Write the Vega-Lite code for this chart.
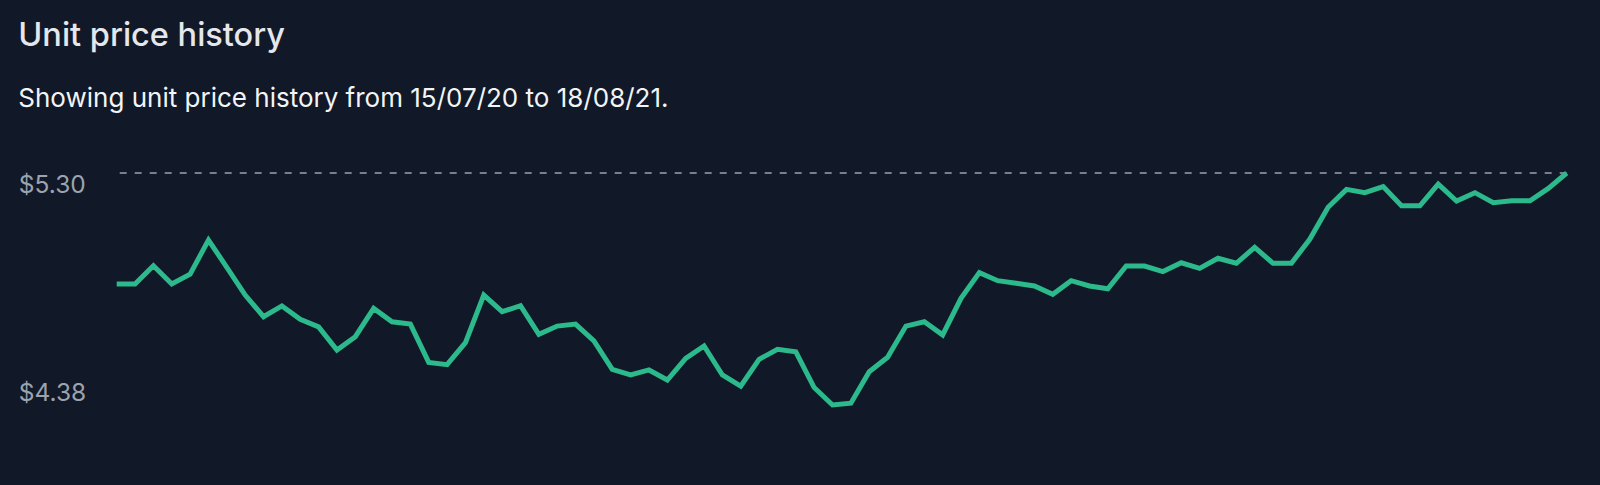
{
  "$schema": "https://vega.github.io/schema/vega-lite/v6.json",
  "width": 1450,
  "height": 232,
  "autosize": {"type": "none"},
  "padding": {"left": 116.7, "top": 173, "right": 33.3, "bottom": 80},
  "background": "#111827",
  "config": {"view": {"stroke": null}, "font": "Inter"},
  "title": {
    "text": "Unit price history",
    "subtitle": "Showing unit price history from 15/07/20 to 18/08/21.",
    "anchor": "start",
    "frame": "bounds",
    "font": "Inter",
    "fontSize": 32.5,
    "fontWeight": 500,
    "color": "#e5e7eb",
    "subtitleFont": "Inter",
    "subtitleFontSize": 26,
    "subtitleColor": "#f3f4f6",
    "subtitlePadding": 33.5,
    "offset": 51.5
  },
  "data": {
    "values": [
      {"i": 0, "price": 4.860}, {"i": 1, "price": 4.860}, {"i": 2, "price": 4.932}, {"i": 3, "price": 4.860},
      {"i": 4, "price": 4.899}, {"i": 5, "price": 5.034}, {"i": 6, "price": 4.926}, {"i": 7, "price": 4.816},
      {"i": 8, "price": 4.730}, {"i": 9, "price": 4.773}, {"i": 10, "price": 4.720}, {"i": 11, "price": 4.690},
      {"i": 12, "price": 4.598}, {"i": 13, "price": 4.651}, {"i": 14, "price": 4.763}, {"i": 15, "price": 4.710},
      {"i": 16, "price": 4.701}, {"i": 17, "price": 4.549}, {"i": 18, "price": 4.540}, {"i": 19, "price": 4.627},
      {"i": 20, "price": 4.816}, {"i": 21, "price": 4.750}, {"i": 22, "price": 4.774}, {"i": 23, "price": 4.660},
      {"i": 24, "price": 4.693}, {"i": 25, "price": 4.701}, {"i": 26, "price": 4.634}, {"i": 27, "price": 4.521},
      {"i": 28, "price": 4.499}, {"i": 29, "price": 4.519}, {"i": 30, "price": 4.479}, {"i": 31, "price": 4.565},
      {"i": 32, "price": 4.614}, {"i": 33, "price": 4.499}, {"i": 34, "price": 4.455}, {"i": 35, "price": 4.561},
      {"i": 36, "price": 4.601}, {"i": 37, "price": 4.591}, {"i": 38, "price": 4.449}, {"i": 39, "price": 4.380},
      {"i": 40, "price": 4.387}, {"i": 41, "price": 4.512}, {"i": 42, "price": 4.569}, {"i": 43, "price": 4.693},
      {"i": 44, "price": 4.710}, {"i": 45, "price": 4.658}, {"i": 46, "price": 4.803}, {"i": 47, "price": 4.905},
      {"i": 48, "price": 4.873}, {"i": 49, "price": 4.863}, {"i": 50, "price": 4.852}, {"i": 51, "price": 4.819},
      {"i": 52, "price": 4.873}, {"i": 53, "price": 4.852}, {"i": 54, "price": 4.841}, {"i": 55, "price": 4.931},
      {"i": 56, "price": 4.931}, {"i": 57, "price": 4.909}, {"i": 58, "price": 4.944}, {"i": 59, "price": 4.922},
      {"i": 60, "price": 4.962}, {"i": 61, "price": 4.942}, {"i": 62, "price": 5.005}, {"i": 63, "price": 4.942},
      {"i": 64, "price": 4.942}, {"i": 65, "price": 5.037}, {"i": 66, "price": 5.164}, {"i": 67, "price": 5.235},
      {"i": 68, "price": 5.222}, {"i": 69, "price": 5.246}, {"i": 70, "price": 5.170}, {"i": 71, "price": 5.170},
      {"i": 72, "price": 5.256}, {"i": 73, "price": 5.189}, {"i": 74, "price": 5.222}, {"i": 75, "price": 5.182},
      {"i": 76, "price": 5.190}, {"i": 77, "price": 5.190}, {"i": 78, "price": 5.239}, {"i": 79, "price": 5.300}
    ]
  },
  "layer": [
    {
      "mark": {"type": "rule", "strokeDash": [7, 8], "color": "#94a3b8", "strokeWidth": 1.5},
      "encoding": {
        "y": {"aggregate": "max", "field": "price", "type": "quantitative", "axis": {"title": null}}
      }
    },
    {
      "mark": {"type": "line", "color": "#2cb98c", "strokeWidth": 5},
      "encoding": {
        "x": {"field": "i", "type": "quantitative", "scale": {"domain": [0, 79], "nice": false, "zero": false}, "axis": null},
        "y": {
          "field": "price",
          "type": "quantitative",
          "scale": {"domain": [4.38, 5.30], "nice": false, "zero": false},
          "axis": {
            "title": null,
            "values": [4.38, 5.30],
            "format": "$.2f",
            "domain": false,
            "ticks": false,
            "tickSize": 0,
            "grid": false,
            "labelAlign": "left",
            "labelPadding": 98.4,
            "labelFontSize": 24.5,
            "labelFont": "Inter",
            "labelColor": "#9ca3af",
            "labelBaseline": {"condition": {"test": "datum.value > 5", "value": "top"}, "value": "bottom"},
            "labelOverlap": false
          }
        }
      }
    }
  ]
}
